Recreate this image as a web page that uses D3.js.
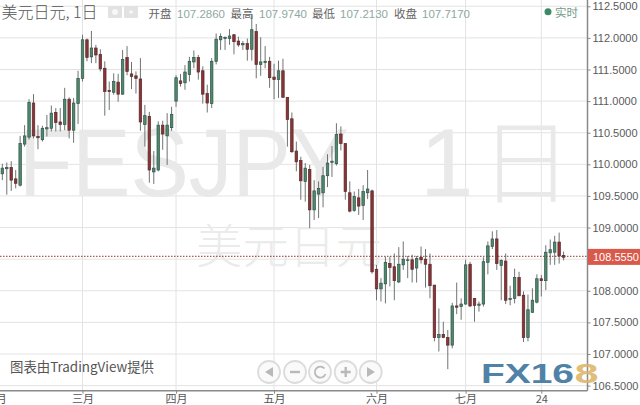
<!DOCTYPE html>
<html><head><meta charset="utf-8">
<script src="https://cdn.jsdelivr.net/npm/d3@7"></script>
<style>html,body{margin:0;padding:0;background:#fff;overflow:hidden}svg{display:block}</style>
</head><body><div id="c"></div>
<script>
const opens=[109.85,109.93,109.95,109.77,109.67,110.32,110.43,110.97,110.44,110.39,110.56,110.57,110.82,110.67,110.63,111.03,110.54,110.96,111.36,111.97,111.70,111.84,111.74,111.52,111.17,111.14,111.30,111.11,111.69,111.43,111.40,111.35,110.63,110.76,109.88,109.91,110.62,110.45,110.58,111.00,111.32,111.29,111.42,111.62,111.69,111.48,111.12,110.96,111.63,111.97,111.99,111.99,112.05,111.95,111.89,111.91,111.82,112.10,111.58,111.61,111.63,111.38,111.34,111.48,111.06,110.72,110.21,110.06,109.73,109.92,109.28,109.53,109.55,109.82,110.03,110.01,110.48,110.33,109.55,109.27,109.47,109.35,109.55,109.58,108.34,108.03,108.11,108.43,108.38,108.14,108.41,108.48,108.49,108.36,108.53,108.50,108.42,108.09,107.26,107.31,107.26,107.14,107.76,107.75,107.79,108.42,107.88,107.77,107.79,108.45,108.70,108.82,108.40,108.47,107.86,107.88,108.21,107.93,107.26,107.66,107.82,108.19,108.16,108.60,108.61,108.77,108.56];
const closes=[109.94,109.95,109.75,109.70,110.33,110.45,110.98,110.45,110.42,110.57,110.58,110.81,110.66,110.63,111.03,110.54,110.97,111.36,111.97,111.69,111.84,111.73,111.51,111.15,111.15,111.31,111.11,111.66,111.47,111.39,111.36,110.67,110.77,109.91,109.94,110.62,110.48,110.62,110.79,111.37,111.28,111.46,111.63,111.69,111.46,111.11,110.97,111.63,111.98,112.02,112.01,112.03,111.94,111.89,111.91,111.82,112.13,111.58,111.62,111.63,111.37,111.34,111.48,111.06,110.71,110.20,110.04,109.74,109.94,109.28,109.58,109.62,109.82,110.02,110.05,110.47,110.33,109.57,109.26,109.49,109.34,109.57,109.61,108.30,108.03,108.12,108.45,108.37,108.16,108.42,108.50,108.49,108.34,108.51,108.49,108.42,108.08,107.26,107.31,107.26,107.14,107.76,107.74,107.79,108.41,107.76,107.77,107.79,108.46,108.71,108.82,108.43,108.48,107.85,107.88,108.21,107.92,107.26,107.70,107.85,108.19,108.16,108.61,108.65,108.77,108.55,108.53];
const highs=[110.01,110.03,110.05,109.91,110.45,110.62,111.03,111.11,110.62,110.61,110.78,110.93,110.89,110.89,111.21,111.06,111.05,111.48,112.05,111.99,112.11,111.89,111.82,111.63,111.31,111.44,111.43,111.81,111.87,111.62,111.47,111.68,110.94,110.83,110.21,110.68,110.69,110.81,110.91,111.41,111.43,111.57,111.70,111.80,111.73,111.55,111.26,111.68,112.07,112.07,112.02,112.14,112.06,112.02,111.95,111.99,112.36,112.22,112.01,111.87,111.70,111.59,111.64,111.67,111.06,110.82,110.36,110.12,110.02,109.99,109.75,109.73,109.96,110.16,110.29,110.65,110.60,110.33,109.73,109.57,109.61,109.67,109.91,109.60,108.41,108.20,108.54,108.54,108.59,108.69,108.78,108.55,108.57,108.55,108.70,108.66,108.59,108.09,107.72,107.51,107.38,107.81,108.13,107.88,108.49,108.46,107.88,107.83,108.53,108.78,108.94,108.96,108.50,108.59,108.08,108.35,108.30,107.99,107.94,108.04,108.26,108.25,108.72,108.81,108.87,108.92,108.62];
const lows=[109.75,109.52,109.58,109.62,109.65,110.28,110.39,110.41,110.24,110.36,110.44,110.52,110.52,110.52,110.54,110.41,110.34,110.64,111.31,111.63,111.60,111.60,111.47,110.77,110.86,111.10,110.99,111.10,111.41,111.19,111.12,110.53,110.28,109.71,109.69,109.89,110.23,109.99,110.53,110.91,111.23,111.18,111.31,111.52,111.34,110.96,110.82,110.89,111.58,111.81,111.81,111.89,111.74,111.86,111.81,111.64,111.64,111.36,111.40,111.52,111.21,111.03,111.05,111.06,110.28,110.18,109.89,109.44,109.41,108.99,109.12,109.15,109.32,109.64,109.80,109.98,110.22,109.44,109.24,109.25,109.20,109.12,109.45,108.27,107.85,107.83,107.80,108.07,107.85,108.12,108.33,108.20,108.13,108.13,108.43,108.05,107.88,107.20,107.04,107.25,106.76,107.09,107.63,107.54,107.78,107.74,107.51,107.67,107.75,108.26,108.66,108.33,107.85,107.79,107.77,107.80,107.92,107.19,107.20,107.65,107.80,107.91,108.01,108.41,108.41,108.43,108.48];
const yTicks=[112.5,112,111.5,111,110.5,110,109.5,109,108.5,108,107.5,107,106.5];
const hiddenTick=108.5;
const monthLabels=["二月","三月","四月","五月","六月","七月","24"];
const monthIndex=[-1.6,18,39,61,84,104,121];
const lastPrice=108.555;
const headerLabels=["开盘","最高","最低","收盘"];
const headerValues=["107.2860","107.9740","107.2130","107.7170"];

const W=640,H=405,axisX=587.5,axisY=390.7;
const sans='"Liberation Sans",Arial,sans-serif', cjk='"Noto Sans CJK SC",sans-serif';
const x=d3.scaleLinear().domain([0,opens.length-1]).range([2.33,563.6]);
const y=d3.scaleLinear().domain([112,106.5]).range([37.9,385.6]);
const svg=d3.select("#c").append("svg").attr("width",W).attr("height",H).attr("viewBox",[0,0,W,H]);

// grid
const grid=svg.append("g").attr("stroke","#e3e3e3").attr("stroke-width",1);
grid.selectAll("line.h").data(yTicks).join("line").attr("x1",0).attr("x2",axisX).attr("y1",d=>y(d)).attr("y2",d=>y(d));
grid.selectAll("line.v").data(monthIndex.slice(1)).join("line").attr("x1",d=>x(d)).attr("x2",d=>x(d)).attr("y1",0).attr("y2",axisY);

// watermark
const wm=svg.append("g").attr("fill","#e9e9e9");
wm.append("text").attr("x",19).attr("y",196).attr("font-family",sans).attr("font-size",96).attr("textLength",330).attr("lengthAdjust","spacingAndGlyphs").text("FESJPY");
wm.append("text").attr("x",420).attr("y",196).attr("font-family",sans).attr("font-size",96).text("1");
wm.append("text").attr("x",480).attr("y",196).attr("font-family",cjk).attr("font-size",92).attr("font-weight",300).text("日");
wm.append("text").attr("x",196).attr("y",263).attr("font-family",cjk).attr("font-size",46.5).attr("font-weight",300).attr("fill","#ebebeb").text("美元日元");

// candles
const idx=d3.range(opens.length);
const c=svg.append("g");
c.selectAll("line").data(idx).join("line")
 .attr("x1",i=>x(i)).attr("x2",i=>x(i)).attr("y1",i=>y(highs[i])).attr("y2",i=>y(lows[i]))
 .attr("stroke","#6f7472").attr("stroke-width",1);
c.selectAll("rect").data(idx).join("rect")
 .attr("x",i=>x(i)-1.25).attr("width",2.5)
 .attr("y",i=>y(Math.max(opens[i],closes[i])))
 .attr("height",i=>Math.max(0.6,Math.abs(y(opens[i])-y(closes[i]))))
 .attr("fill",i=>closes[i]>=opens[i]?"#4d8a6c":"#8c3336")
 .attr("stroke",i=>closes[i]>=opens[i]?"#33524a":"#552a2c").attr("stroke-width",0.7);

// price line
svg.append("line").attr("x1",0).attr("x2",axisX).attr("y1",y(lastPrice)+0.6).attr("y2",y(lastPrice)+0.6)
 .attr("stroke","#8a332e").attr("stroke-width",1).attr("stroke-dasharray","1.5 1.5");

// axes
const ya=svg.append("g").attr("transform",`translate(${axisX},0)`)
 .call(d3.axisRight(y).tickValues(yTicks).tickFormat(d=>d===hiddenTick?"":d3.format(".4f")(d)).tickSize(3).tickPadding(2));
ya.select(".domain").attr("stroke","#8a8a8a").attr("stroke-width",1.5).attr("d",`M0,0V${axisY}`);
ya.selectAll(".tick line").attr("stroke","#888");
ya.selectAll("text").attr("font-family",sans).attr("font-size",11).attr("fill","#5a5a5a");

const xa=svg.append("g").attr("transform",`translate(0,${axisY})`)
 .call(d3.axisBottom(x).tickValues(monthIndex).tickFormat((d,i)=>monthLabels[i]).tickSize(3).tickPadding(1));
xa.select(".domain").attr("stroke","#8a8a8a").attr("stroke-width",1.5).attr("d",`M0,0H${axisX}`);
xa.selectAll(".tick line").attr("stroke","#888");
xa.selectAll("text").attr("font-family",cjk).attr("font-size",11).attr("fill","#555");

// last price label
svg.append("rect").attr("x",588).attr("y",y(lastPrice)-6.8).attr("width",52).attr("height",16).attr("fill","#d9594a");
svg.append("text").attr("x",593).attr("y",y(lastPrice)+5).attr("font-family",sans).attr("font-size",11).attr("fill","#fff").text("108.5550");

// header
svg.append("text").attr("x",1.5).attr("y",18).attr("font-family",cjk).attr("font-size",16).attr("font-weight",300).attr("fill","#555").text("美元日元, 1日");
[108,124].forEach((px,k)=>{
  svg.append("rect").attr("x",px).attr("y",6).attr("width",14).attr("height",12).attr("rx",1).attr("fill","#e2e2e2");
  svg.append("circle").attr("cx",px+7).attr("cy",12).attr("r",k?1.8:3).attr("fill","#f7f7f7");
});
const lblX=[148.5,230.5,312,394], valX=[177,259,340,422];
headerLabels.forEach((t,i)=>{
  svg.append("text").attr("x",lblX[i]).attr("y",17.5).attr("font-family",cjk).attr("font-size",11.5).attr("fill","#666").text(t);
  svg.append("text").attr("x",valX[i]).attr("y",17.5).attr("font-family",sans).attr("font-size",11.5).attr("fill","#8fa8a0").text(headerValues[i]);
});
svg.append("circle").attr("cx",548).attr("cy",11.8).attr("r",3.5).attr("fill","#3c8a68");
svg.append("text").attr("x",555).attr("y",16.5).attr("font-family",cjk).attr("font-size",11.5).attr("fill","#6f9c88").text("实时");

// credit
svg.append("text").attr("x",10).attr("y",371.5).attr("font-family",cjk).attr("font-size",13.4).attr("fill","#555").text("图表由TradingView提供");

// buttons
const btnX=[269,295,320,345.7,370.7];
const b=svg.append("g");
btnX.forEach(cx=>b.append("circle").attr("cx",cx).attr("cy",372).attr("r",11).attr("fill","#fafafa").attr("stroke","#dcdcdc").attr("stroke-width",1.8));
const glyph="#b9b9b9";
b.append("path").attr("d","M273,367V377L265,372Z").attr("fill",glyph);
b.append("path").attr("d","M290,372H300").attr("stroke",glyph).attr("stroke-width",2.4);
b.append("path").attr("d","M324.5,368.5A5.5,5.5 0 1 0 325.5,374").attr("fill","none").attr("stroke",glyph).attr("stroke-width",1.8);
b.append("path").attr("d","M340.7,372H350.7M345.7,367V377").attr("stroke",glyph).attr("stroke-width",2.4);
b.append("path").attr("d","M367,367V377L375,372Z").attr("fill",glyph);

// logo
svg.append("text").attr("x",481).attr("y",383).attr("font-family",'"Liberation Sans",sans-serif').attr("font-weight",700).attr("font-size",28).attr("textLength",93).attr("lengthAdjust","spacingAndGlyphs").attr("fill","#4f82a6").text("FX16");
svg.append("text").attr("x",574.5).attr("y",383).attr("font-family",'"Liberation Sans",sans-serif').attr("font-weight",700).attr("font-size",28).attr("textLength",24).attr("lengthAdjust","spacingAndGlyphs").attr("fill","#dcb568").attr("fill-opacity",0.9).text("8");
</script></body></html>
